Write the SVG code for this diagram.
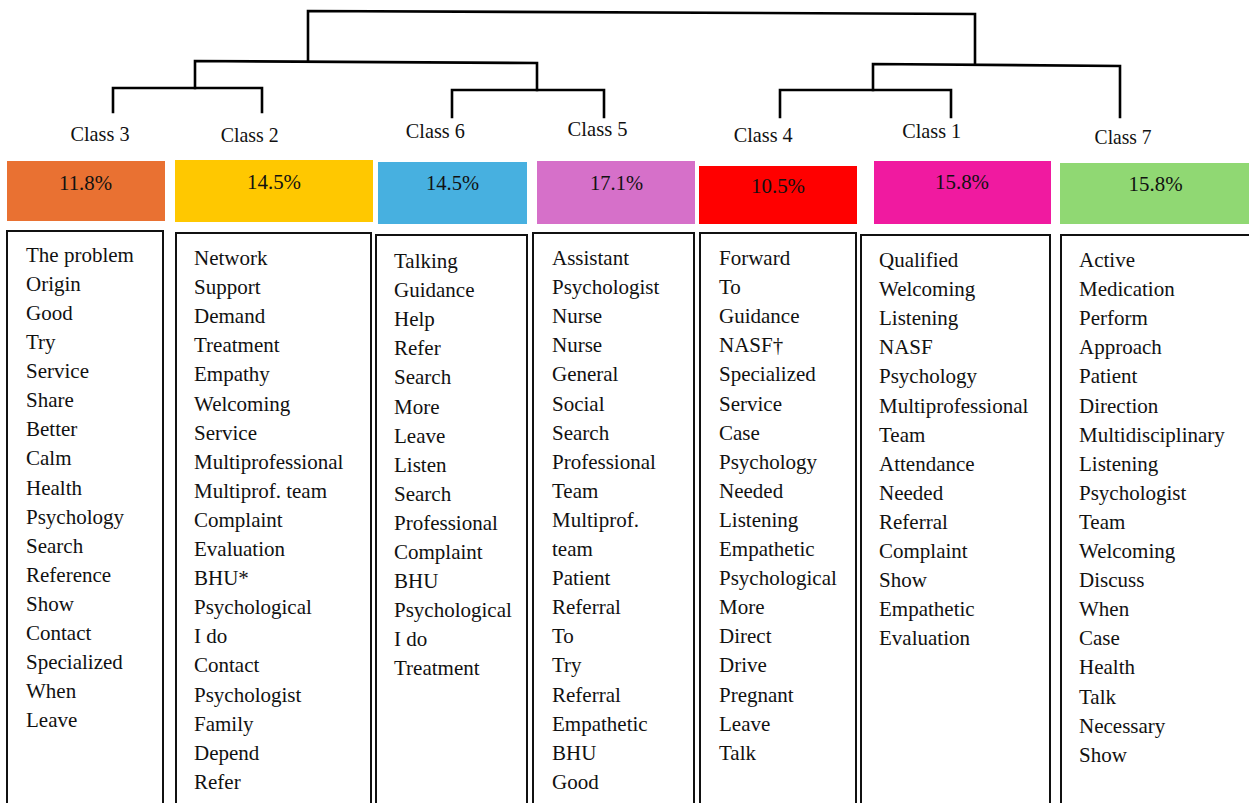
<svg xmlns="http://www.w3.org/2000/svg" width="1249" height="803" viewBox="0 0 1249 803">
<style>
.dl{fill:none;stroke:#000;stroke-width:2.6;stroke-linecap:square}
.lbl{font-family:"Liberation Serif",serif;font-size:22px;fill:#111}
.pct{font-family:"Liberation Serif",serif;font-size:22px;fill:#111}
.box{fill:#fff;stroke:#111;stroke-width:2}
.w{font-family:"Liberation Serif",serif;font-size:21px;fill:#111}
</style>
<rect width="1249" height="803" fill="#fff"/>
<g id="connectors">
<polyline class="dl" points="308,61 308,11 975,14 975,63"/>
<polyline class="dl" points="195,88 195,61 537,63 537,90"/>
<polyline class="dl" points="113,112 113,88 262,88 262,112"/>
<polyline class="dl" points="452,117 452,90 604,90 604,117"/>
<polyline class="dl" points="873,90 873,64 1120,66 1120,117"/>
<polyline class="dl" points="780,117 780,90 951,90 951,117"/>
</g>
<g id="class3">
<text class="lbl" x="70.5" y="141" textLength="59" lengthAdjust="spacingAndGlyphs">Class 3</text>
<rect x="7" y="161" width="158" height="60" fill="#E97132"/>
<text class="pct" x="59" y="190" textLength="53" lengthAdjust="spacingAndGlyphs">11.8%</text>
<rect class="box" x="7" y="231" width="156" height="580"/>
<text class="w" x="26" y="261.7"><tspan x="26">The problem</tspan><tspan x="26" dy="29.1">Origin</tspan><tspan x="26" dy="29.1">Good</tspan><tspan x="26" dy="29.1">Try</tspan><tspan x="26" dy="29.1">Service</tspan><tspan x="26" dy="29.1">Share</tspan><tspan x="26" dy="29.1">Better</tspan><tspan x="26" dy="29.1">Calm</tspan><tspan x="26" dy="29.1">Health</tspan><tspan x="26" dy="29.1">Psychology</tspan><tspan x="26" dy="29.1">Search</tspan><tspan x="26" dy="29.1">Reference</tspan><tspan x="26" dy="29.1">Show</tspan><tspan x="26" dy="29.1">Contact</tspan><tspan x="26" dy="29.1">Specialized</tspan><tspan x="26" dy="29.1">When</tspan><tspan x="26" dy="29.1">Leave</tspan></text>
</g>
<g id="class2">
<text class="lbl" x="220.7" y="142" textLength="58" lengthAdjust="spacingAndGlyphs">Class 2</text>
<rect x="175" y="160" width="198" height="62" fill="#FFC800"/>
<text class="pct" x="247" y="188.5" textLength="54" lengthAdjust="spacingAndGlyphs">14.5%</text>
<rect class="box" x="176" y="233" width="195" height="580"/>
<text class="w" x="194" y="265"><tspan x="194">Network</tspan><tspan x="194" dy="29.1">Support</tspan><tspan x="194" dy="29.1">Demand</tspan><tspan x="194" dy="29.1">Treatment</tspan><tspan x="194" dy="29.1">Empathy</tspan><tspan x="194" dy="29.1">Welcoming</tspan><tspan x="194" dy="29.1">Service</tspan><tspan x="194" dy="29.1">Multiprofessional</tspan><tspan x="194" dy="29.1">Multiprof. team</tspan><tspan x="194" dy="29.1">Complaint</tspan><tspan x="194" dy="29.1">Evaluation</tspan><tspan x="194" dy="29.1">BHU*</tspan><tspan x="194" dy="29.1">Psychological</tspan><tspan x="194" dy="29.1">I do</tspan><tspan x="194" dy="29.1">Contact</tspan><tspan x="194" dy="29.1">Psychologist</tspan><tspan x="194" dy="29.1">Family</tspan><tspan x="194" dy="29.1">Depend</tspan><tspan x="194" dy="29.1">Refer</tspan></text>
</g>
<g id="class6">
<text class="lbl" x="405.8" y="137.5" textLength="59" lengthAdjust="spacingAndGlyphs">Class 6</text>
<rect x="378" y="162" width="149" height="62" fill="#47B0E0"/>
<text class="pct" x="426" y="190" textLength="53" lengthAdjust="spacingAndGlyphs">14.5%</text>
<rect class="box" x="376" y="235" width="151" height="580"/>
<text class="w" x="394" y="268"><tspan x="394">Talking</tspan><tspan x="394" dy="29.1">Guidance</tspan><tspan x="394" dy="29.1">Help</tspan><tspan x="394" dy="29.1">Refer</tspan><tspan x="394" dy="29.1">Search</tspan><tspan x="394" dy="29.1">More</tspan><tspan x="394" dy="29.1">Leave</tspan><tspan x="394" dy="29.1">Listen</tspan><tspan x="394" dy="29.1">Search</tspan><tspan x="394" dy="29.1">Professional</tspan><tspan x="394" dy="29.1">Complaint</tspan><tspan x="394" dy="29.1">BHU</tspan><tspan x="394" dy="29.1">Psychological</tspan><tspan x="394" dy="29.1">I do</tspan><tspan x="394" dy="29.1">Treatment</tspan></text>
</g>
<g id="class5">
<text class="lbl" x="567.6" y="136" textLength="60" lengthAdjust="spacingAndGlyphs">Class 5</text>
<rect x="537" y="161" width="158" height="63" fill="#D670C9"/>
<text class="pct" x="590" y="190" textLength="53" lengthAdjust="spacingAndGlyphs">17.1%</text>
<rect class="box" x="533" y="233" width="161" height="580"/>
<text class="w" x="552" y="265"><tspan x="552">Assistant</tspan><tspan x="552" dy="29.1">Psychologist</tspan><tspan x="552" dy="29.1">Nurse</tspan><tspan x="552" dy="29.1">Nurse</tspan><tspan x="552" dy="29.1">General</tspan><tspan x="552" dy="29.1">Social</tspan><tspan x="552" dy="29.1">Search</tspan><tspan x="552" dy="29.1">Professional</tspan><tspan x="552" dy="29.1">Team</tspan><tspan x="552" dy="29.1">Multiprof.</tspan><tspan x="552" dy="29.1">team</tspan><tspan x="552" dy="29.1">Patient</tspan><tspan x="552" dy="29.1">Referral</tspan><tspan x="552" dy="29.1">To</tspan><tspan x="552" dy="29.1">Try</tspan><tspan x="552" dy="29.1">Referral</tspan><tspan x="552" dy="29.1">Empathetic</tspan><tspan x="552" dy="29.1">BHU</tspan><tspan x="552" dy="29.1">Good</tspan></text>
</g>
<g id="class4">
<text class="lbl" x="733.7" y="141.7" textLength="59" lengthAdjust="spacingAndGlyphs">Class 4</text>
<rect x="699" y="166" width="158" height="58" fill="#FF0000"/>
<text class="pct" x="751" y="192.7" textLength="54" lengthAdjust="spacingAndGlyphs">10.5%</text>
<rect class="box" x="700" y="233" width="156" height="580"/>
<text class="w" x="719" y="265"><tspan x="719">Forward</tspan><tspan x="719" dy="29.1">To</tspan><tspan x="719" dy="29.1">Guidance</tspan><tspan x="719" dy="29.1">NASF†</tspan><tspan x="719" dy="29.1">Specialized</tspan><tspan x="719" dy="29.1">Service</tspan><tspan x="719" dy="29.1">Case</tspan><tspan x="719" dy="29.1">Psychology</tspan><tspan x="719" dy="29.1">Needed</tspan><tspan x="719" dy="29.1">Listening</tspan><tspan x="719" dy="29.1">Empathetic</tspan><tspan x="719" dy="29.1">Psychological</tspan><tspan x="719" dy="29.1">More</tspan><tspan x="719" dy="29.1">Direct</tspan><tspan x="719" dy="29.1">Drive</tspan><tspan x="719" dy="29.1">Pregnant</tspan><tspan x="719" dy="29.1">Leave</tspan><tspan x="719" dy="29.1">Talk</tspan></text>
</g>
<g id="class1">
<text class="lbl" x="902.2" y="138.3" textLength="59" lengthAdjust="spacingAndGlyphs">Class 1</text>
<rect x="874" y="161" width="177" height="63" fill="#F01AA0"/>
<text class="pct" x="935" y="189.3" textLength="54" lengthAdjust="spacingAndGlyphs">15.8%</text>
<rect class="box" x="861" y="235" width="189" height="580"/>
<text class="w" x="879" y="267"><tspan x="879">Qualified</tspan><tspan x="879" dy="29.1">Welcoming</tspan><tspan x="879" dy="29.1">Listening</tspan><tspan x="879" dy="29.1">NASF</tspan><tspan x="879" dy="29.1">Psychology</tspan><tspan x="879" dy="29.1">Multiprofessional</tspan><tspan x="879" dy="29.1">Team</tspan><tspan x="879" dy="29.1">Attendance</tspan><tspan x="879" dy="29.1">Needed</tspan><tspan x="879" dy="29.1">Referral</tspan><tspan x="879" dy="29.1">Complaint</tspan><tspan x="879" dy="29.1">Show</tspan><tspan x="879" dy="29.1">Empathetic</tspan><tspan x="879" dy="29.1">Evaluation</tspan></text>
</g>
<g id="class7">
<text class="lbl" x="1094.6" y="144" textLength="57" lengthAdjust="spacingAndGlyphs">Class 7</text>
<rect x="1060" y="163" width="195" height="61" fill="#90D873"/>
<text class="pct" x="1128.6" y="190.7" textLength="54" lengthAdjust="spacingAndGlyphs">15.8%</text>
<rect class="box" x="1061" y="235" width="200" height="580"/>
<text class="w" x="1079" y="267"><tspan x="1079">Active</tspan><tspan x="1079" dy="29.1">Medication</tspan><tspan x="1079" dy="29.1">Perform</tspan><tspan x="1079" dy="29.1">Approach</tspan><tspan x="1079" dy="29.1">Patient</tspan><tspan x="1079" dy="29.1">Direction</tspan><tspan x="1079" dy="29.1">Multidisciplinary</tspan><tspan x="1079" dy="29.1">Listening</tspan><tspan x="1079" dy="29.1">Psychologist</tspan><tspan x="1079" dy="29.1">Team</tspan><tspan x="1079" dy="29.1">Welcoming</tspan><tspan x="1079" dy="29.1">Discuss</tspan><tspan x="1079" dy="29.1">When</tspan><tspan x="1079" dy="29.1">Case</tspan><tspan x="1079" dy="29.1">Health</tspan><tspan x="1079" dy="29.1">Talk</tspan><tspan x="1079" dy="29.1">Necessary</tspan><tspan x="1079" dy="29.1">Show</tspan></text>
</g>
</svg>
